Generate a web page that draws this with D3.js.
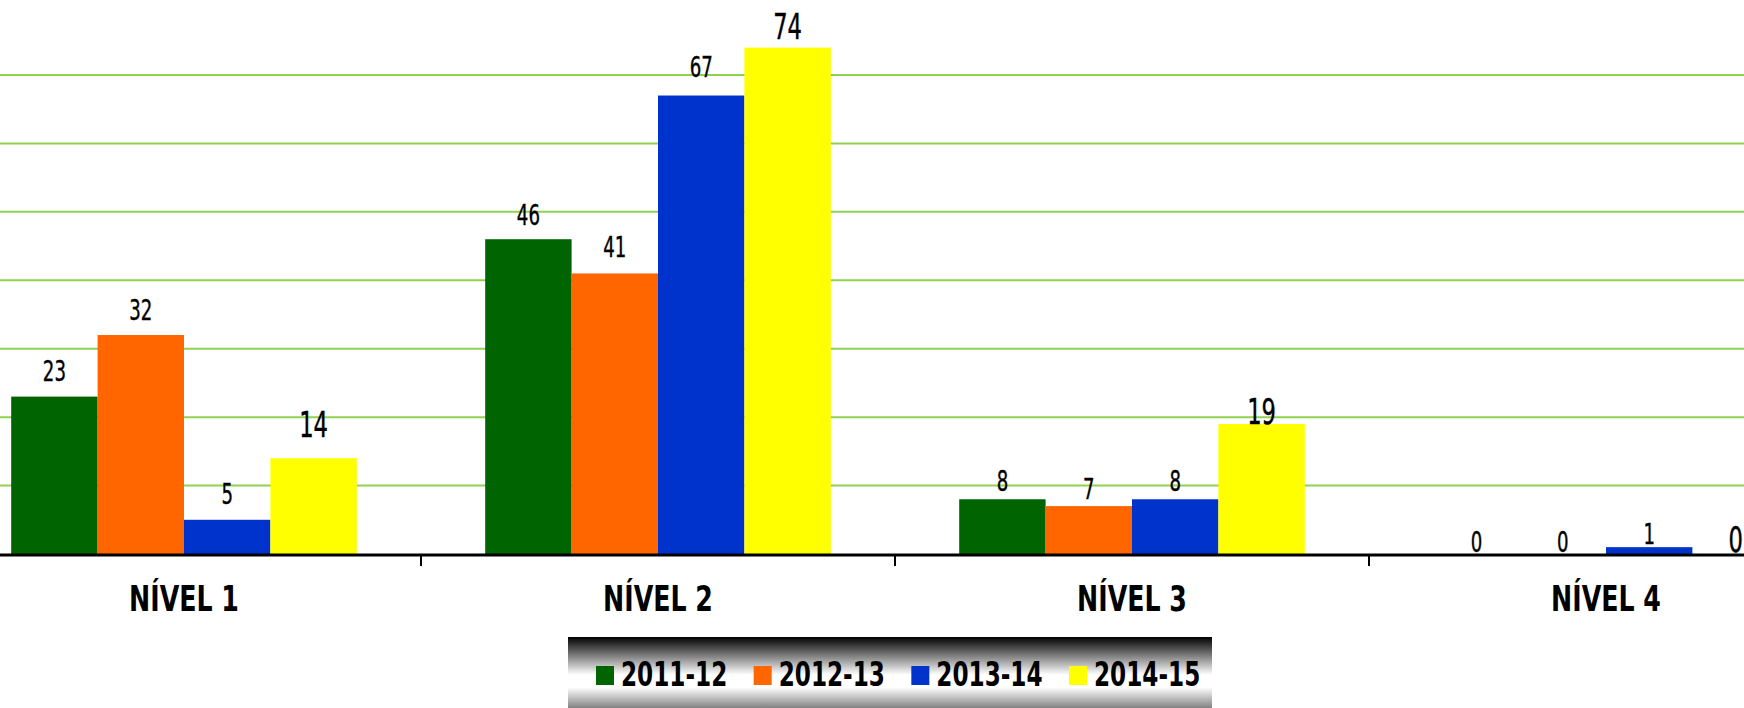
<!DOCTYPE html>
<html lang="pt">
  <head>
    <meta charset="utf-8">
    <title>Níveis</title>
    <script src="https://d3js.org/d3.v7.js"></script>
    <style>
      body { margin: 0; background: #fff; }
      svg { display: block; }
      text { font-family: 'Liberation Sans Narrow', 'DejaVu Sans Condensed', sans-serif; font-stretch: condensed; }
    </style>
  </head>
  <body>
    <script>

  // size
  var w = 1744;
  var h = 708;
  var baseY = 554;

  // data
  var categories = ["NÍVEL 1", "NÍVEL 2", "NÍVEL 3", "NÍVEL 4"];
  var seriesNames = ["2011-12", "2012-13", "2013-14", "2014-15"];
  var values2011 = [23, 46, 8, 0];
  var values2012 = [32, 41, 7, 0];
  var values2013 = [5, 67, 8, 1];
  var values2014 = [14, 74, 19, 0];
  var gridTicks = [10, 20, 30, 40, 50, 60, 70];

  // label gap above each bar (px), per category then series, as placed in the original
  var labelGap = [
    [16, 15, 16, 21],
    [14, 16, 19, 9],
    [8, 7, 8, 0],
    [2, 2, 3, 2]
  ];

  var allValues = [values2011, values2012, values2013, values2014];
  var colors = d3.scaleOrdinal()
    .domain(seriesNames)
    .range(["#006400", "#ff6600", "#0033cc", "#ffff00"]);

  // rows built from the arrays
  var rows = categories.map((c, i) => ({
    cat: c,
    vals: seriesNames.map((s, j) => ({ series: s, value: allValues[j][i], idx: j, gap: labelGap[i][j] }))
  }));

  // scales
  var xCat = d3.scaleBand()
    .domain(categories)
    .range([-53, 1843])
    .padding(0);

  var xSer = d3.scaleBand()
    .domain(seriesNames)
    .range([0, xCat.bandwidth()])
    .paddingInner(0)
    .paddingOuter(0.743);

  var yScale = d3.scaleLinear()
    .domain([0, 80])
    .range([baseY, baseY - 80 * 6.843]);

  var svg = d3.select("body")
    .append("svg")
    .attr("width", w)
    .attr("height", h);

  // narrow text: the original font is much more condensed
  function squeeze(sel, x, y, sx) {
    sel.attr("transform", (d, i) => `translate(${x(d, i)},${y(d, i)}) scale(${sx},1)`);
  }

  // gridlines
  svg.append("g")
    .selectAll("line")
    .data(gridTicks)
    .enter()
    .append("line")
    .attr("x1", 0)
    .attr("x2", w)
    .attr("y1", d => yScale(d))
    .attr("y2", d => yScale(d))
    .attr("stroke", "#92d050")
    .attr("stroke-width", 2);

  // bars
  var groups = svg.selectAll("g.cat")
    .data(rows)
    .enter()
    .append("g")
    .attr("class", "cat")
    .attr("transform", d => `translate(${xCat(d.cat)},0)`);

  groups.selectAll("rect")
    .data(d => d.vals)
    .enter()
    .append("rect")
    .attr("x", d => xSer(d.series))
    .attr("y", d => yScale(d.value))
    .attr("width", xSer.bandwidth())
    .attr("height", d => yScale(0) - yScale(d.value))
    .attr("fill", d => colors(d.series));

  // value labels (last series is drawn larger)
  var labels = groups.selectAll("text")
    .data(d => d.vals)
    .enter()
    .append("text")
    .attr("text-anchor", "middle")
    .attr("font-size", d => d.idx === 3 ? 35 : 28)
    .attr("fill", "#000")
    .attr("stroke", "#000")
    .attr("stroke-width", 0.4)
    .text(d => d.value);
  squeeze(labels,
    d => xSer(d.series) + xSer.bandwidth() / 2,
    d => yScale(d.value) - d.gap,
    0.72);

  // x axis
  var axis = svg.append("g").attr("class", "xAxis");
  axis.append("line")
    .attr("x1", 0)
    .attr("x2", w)
    .attr("y1", baseY + 1)
    .attr("y2", baseY + 1)
    .attr("stroke", "#000")
    .attr("stroke-width", 3);

  axis.selectAll("line.tick")
    .data(categories.slice(1))
    .enter()
    .append("line")
    .attr("class", "tick")
    .attr("x1", d => xCat(d))
    .attr("x2", d => xCat(d))
    .attr("y1", baseY)
    .attr("y2", baseY + 12)
    .attr("stroke", "#000")
    .attr("stroke-width", 2);

  var catLabels = axis.selectAll("text")
    .data(categories)
    .enter()
    .append("text")
    .attr("text-anchor", "middle")
    .attr("font-size", 36)
    .attr("font-weight", "bold")
    .text(d => d);
  squeeze(catLabels, d => xCat(d) + xCat.bandwidth() / 2, () => 611, 0.78);

  // legend
  var defs = svg.append("defs");
  var grad = defs.append("linearGradient")
    .attr("id", "legGrad")
    .attr("x1", 0).attr("y1", 0)
    .attr("x2", 0).attr("y2", 1);
  grad.append("stop").attr("offset", "0%").attr("stop-color", "#000");
  grad.append("stop").attr("offset", "45%").attr("stop-color", "#fff");
  grad.append("stop").attr("offset", "60%").attr("stop-color", "#fff");
  grad.append("stop").attr("offset", "100%").attr("stop-color", "#333");

  var legend = svg.append("g").attr("class", "legend");
  legend.append("rect")
    .attr("x", 568)
    .attr("y", 637)
    .attr("width", 644)
    .attr("height", 84)
    .attr("fill", "url(#legGrad)");

  var legX = d3.scalePoint()
    .domain(seriesNames)
    .range([596, 1069]);

  var items = legend.selectAll("g.item")
    .data(seriesNames)
    .enter()
    .append("g")
    .attr("class", "item")
    .attr("transform", d => `translate(${legX(d)},0)`);

  items.append("rect")
    .attr("x", 0)
    .attr("y", 666)
    .attr("width", 18)
    .attr("height", 19)
    .attr("fill", d => colors(d));

  var legText = items.append("text")
    .attr("font-size", 33)
    .attr("font-weight", "bold")
    .text(d => d);
  squeeze(legText, () => 25, () => 686, 0.78);

    </script>
  </body>
</html>
